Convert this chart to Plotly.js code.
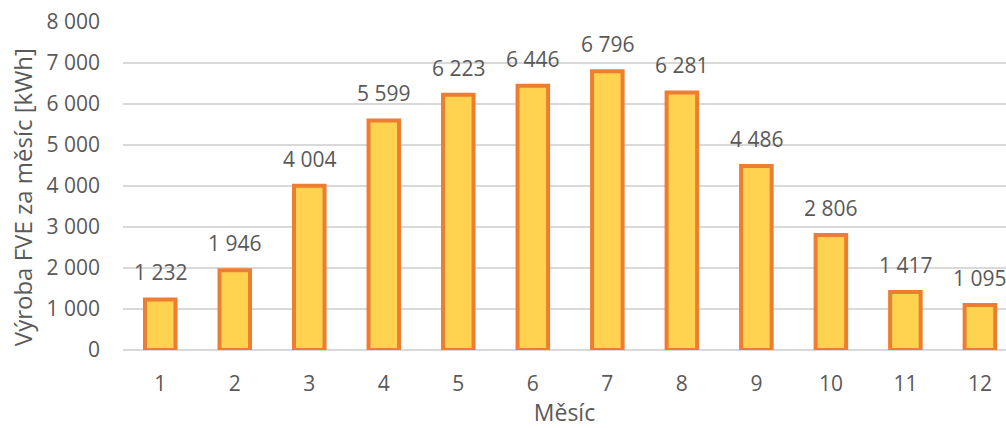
<!DOCTYPE html>
<html>
<head>
<meta charset="utf-8">
<script src="https://cdn.plot.ly/plotly-3.0.1.min.js"></script>
<style>
  html, body { margin: 0; padding: 0; background: #ffffff; }
  #chart { width: 1006px; height: 428px; }
</style>
</head>
<body>
<div id="chart"></div>
<script>
// Monthly PV production (kWh)
const months = [1, 2, 3, 4, 5, 6, 7, 8, 9, 10, 11, 12];
const production = [1232, 1946, 4004, 5599, 6223, 6446, 6796, 6281, 4486, 2806, 1417, 1095];
const yTicks = [0, 1000, 2000, 3000, 4000, 5000, 6000, 7000, 8000];
const xTitle = 'Měsíc';
const yTitle = 'Výroba FVE za měsíc [kWh]';

const textColor = '#595959';
const fontFamily = 'Open Sans, Lato, sans-serif';

const bars = {
  type: 'bar',
  x: months,
  y: production,
  width: 0.41,
  marker: {
    color: '#FFD24F',
    line: { color: '#ED7D31', width: 4 }
  },
  hoverinfo: 'x+y'
};

// value labels above each bar, thousands separated by a space
const labels = months.map((m, i) => ({
  x: m,
  y: production[i],
  text: String(production[i]).replace(/\B(?=(\d{3})+(?!\d))/g, ' '),
  showarrow: false,
  xanchor: 'center',
  yanchor: 'bottom',
  yshift: 11,
  font: { family: fontFamily, size: 21, color: textColor }
}));

// vertical axis title, placed left of the tick labels
labels.push({
  xref: 'paper',
  yref: 'paper',
  x: -0.1144,
  y: 0.466,
  xanchor: 'center',
  yanchor: 'middle',
  textangle: -90,
  text: yTitle,
  showarrow: false,
  font: { family: fontFamily, size: 24, color: textColor }
});

const layout = {
  width: 1006,
  height: 428,
  margin: { l: 123, r: 0, t: 22, b: 78 },
  paper_bgcolor: '#ffffff',
  plot_bgcolor: '#ffffff',
  separators: ', ',
  showlegend: false,
  font: { family: fontFamily, size: 21, color: textColor },
  xaxis: {
    range: [0.5, 12.35],
    tickvals: months,
    ticks: '',
    showgrid: false,
    zeroline: false,
    showline: false,
    ticklabelstandoff: 19,
    tickfont: { size: 21, color: textColor },
    title: { text: xTitle, font: { size: 23, color: textColor }, standoff: 13 }
  },
  yaxis: {
    range: [0, 8000],
    tickvals: yTicks,
    tickformat: ',d',
    showgrid: true,
    gridcolor: '#D9D9D9',
    gridwidth: 1.5,
    zeroline: true,
    zerolinecolor: '#D9D9D9',
    zerolinewidth: 1.5,
    showline: false,
    ticks: '',
    ticklabelstandoff: 22,
    tickfont: { size: 21, color: textColor }
  },
  annotations: labels
};

Plotly.newPlot('chart', [bars], layout, { displayModeBar: false, staticPlot: true });
</script>
</body>
</html>
